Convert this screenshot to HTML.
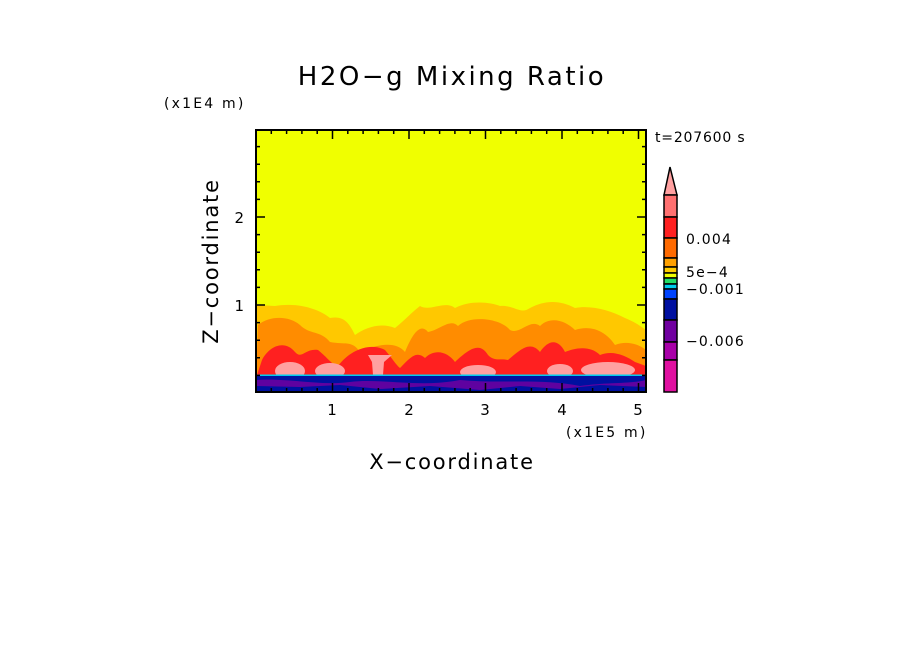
<!DOCTYPE html>
<html><head><style>
body{margin:0;background:#fff;}
svg text{font-family:"DejaVu Sans","Liberation Sans",sans-serif;fill:#000;}
</style></head><body>
<svg width="904" height="654" xmlns="http://www.w3.org/2000/svg">
<rect width="904" height="654" fill="#fff"/>
<text x="452" y="85" font-size="26" letter-spacing="2.5" text-anchor="middle">H2O−g Mixing Ratio</text>
<text x="164" y="108" font-size="14" letter-spacing="2.2">(x1E4 m)</text>
<text x="655" y="142" font-size="14" letter-spacing="0.8">t=207600 s</text>
<defs><clipPath id="c"><rect x="256" y="130" width="390" height="262"/></clipPath></defs>
<g clip-path="url(#c)">
<rect x="256" y="130" width="390" height="262" fill="#f0ff00"/>
<path d="M256,305 L275,306 C300,302 320,310 330,318 C345,315 350,325 355,335 C365,328 380,322 395,328 C405,320 412,312 420,306 C430,312 445,300 455,308 C470,300 490,302 500,306 C515,305 520,315 530,308 C545,300 560,300 575,308 C590,305 610,310 625,318 C635,322 640,326 646,330 L646,378 L256,378 Z" fill="#ffc800"/>
<path d="M258,325 C270,315 290,316 300,325 C310,335 320,330 330,342 C345,345 352,340 360,352 C375,345 395,340 405,352 C412,335 420,322 428,332 C440,330 450,318 458,326 C470,315 500,318 510,330 C520,335 530,318 540,326 C550,316 565,320 575,330 C590,325 605,330 615,345 C628,340 640,345 646,350 L646,378 L256,378 Z" fill="#ff8c00"/>
<path d="M262,360 C270,345 285,340 295,352 C302,360 305,348 318,350 C328,358 332,365 338,366 C350,350 370,342 385,350 C392,358 396,365 400,368 C410,358 416,350 425,358 C435,348 448,352 455,362 C470,348 480,342 488,355 C495,362 500,358 508,360 C520,350 530,340 540,352 C548,340 558,338 565,352 C575,348 590,345 600,355 C612,350 625,355 635,362 L646,366 L646,378 L256,378 Z" fill="#ff2020"/>
<ellipse cx="290" cy="371" rx="15" ry="9" fill="#ffa0a0"/>
<ellipse cx="330" cy="371" rx="15" ry="8" fill="#ffa0a0"/>
<path d="M368,355 L392,355 L384,362 L383,375 L373,375 L372,362 Z" fill="#ffa0a0"/>
<ellipse cx="478" cy="372" rx="18" ry="7" fill="#ffa0a0"/>
<ellipse cx="560" cy="371" rx="13" ry="7" fill="#ffa0a0"/>
<ellipse cx="608" cy="370" rx="27" ry="8" fill="#ffa0a0"/>
<rect x="256" y="375" width="390" height="17" fill="#0010a0"/>
<path d="M256,380 C290,378 320,386 350,382 C380,378 420,388 460,380 C500,384 540,378 580,386 C610,382 630,384 646,380 L646,392 L256,392 Z" fill="#7000a0" opacity="0.85"/>
<path d="M256,386 L300,387 L340,385 L380,389 L430,386 L480,390 L520,386 L560,389 L600,385 L646,387 L646,392 L256,392 Z" fill="#0010a0"/>
<rect x="256" y="374.5" width="390" height="1.5" fill="#00ccee"/>
</g>
<rect x="256" y="130" width="390" height="262" fill="none" stroke="#000" stroke-width="2"/>
<g stroke="#000" stroke-width="1.5">
<path d="M332.5,392v-9M409,392v-9M485.5,392v-9M562,392v-9M638.5,392v-9M332.5,130v9M409,130v9M485.5,130v9M562,130v9M638.5,130v9"/>
<path d="M271.3,392v-4M286.6,392v-4M301.9,392v-4M317.2,392v-4M347.8,392v-4M363.1,392v-4M378.4,392v-4M393.7,392v-4M424.3,392v-4M439.6,392v-4M454.9,392v-4M470.2,392v-4M500.8,392v-4M516.1,392v-4M531.4,392v-4M546.7,392v-4M577.3,392v-4M592.6,392v-4M607.9,392v-4M623.2,392v-4
M271.3,130v4M286.6,130v4M301.9,130v4M317.2,130v4M347.8,130v4M363.1,130v4M378.4,130v4M393.7,130v4M424.3,130v4M439.6,130v4M454.9,130v4M470.2,130v4M500.8,130v4M516.1,130v4M531.4,130v4M546.7,130v4M577.3,130v4M592.6,130v4M607.9,130v4M623.2,130v4"/>
<path d="M256,305h9M256,217h9M646,305h-9M646,217h-9"/>
<path d="M256,375.4h4M256,357.8h4M256,340.2h4M256,322.6h4M256,287.4h4M256,269.8h4M256,252.2h4M256,234.6h4M256,199.4h4M256,181.8h4M256,164.2h4M256,146.6h4
M646,375.4h-4M646,357.8h-4M646,340.2h-4M646,322.6h-4M646,287.4h-4M646,269.8h-4M646,252.2h-4M646,234.6h-4M646,199.4h-4M646,181.8h-4M646,164.2h-4M646,146.6h-4"/>
</g>
<g font-size="15" text-anchor="middle">
<text x="332" y="415">1</text><text x="409" y="415">2</text><text x="485" y="415">3</text><text x="562" y="415">4</text><text x="638" y="415">5</text>
</g>
<text x="244" y="311" font-size="15" text-anchor="end">1</text>
<text x="244" y="223" font-size="15" text-anchor="end">2</text>
<text x="566" y="437" font-size="14" letter-spacing="2.2">(x1E5 m)</text>
<text x="452" y="469" font-size="21" letter-spacing="1.8" text-anchor="middle">X−coordinate</text>
<text transform="translate(218,261) rotate(-90)" font-size="21" letter-spacing="1.8" text-anchor="middle">Z−coordinate</text>
<g stroke="#000" stroke-width="1.5">
<path d="M670,167 L664,195 L677,195 Z" fill="#ffa0a0"/>
<rect x="664" y="195" width="13" height="22" fill="#ff7070"/>
<rect x="664" y="217" width="13" height="21" fill="#ff2020"/>
<rect x="664" y="238" width="13" height="20" fill="#ff6a00"/>
<rect x="664" y="258" width="13" height="9" fill="#ffa000"/>
<rect x="664" y="267" width="13" height="6" fill="#ffcc00"/>
<rect x="664" y="273" width="13" height="5" fill="#f0ff00"/>
<rect x="664" y="278" width="13" height="6" fill="#22dd66"/>
<rect x="664" y="284" width="13" height="5" fill="#00ccee"/>
<rect x="664" y="289" width="13" height="10" fill="#0044ff"/>
<rect x="664" y="299" width="13" height="21" fill="#0010a0"/>
<rect x="664" y="320" width="13" height="22" fill="#7000a0"/>
<rect x="664" y="342" width="13" height="18" fill="#a800a8"/>
<rect x="664" y="360" width="13" height="32" fill="#e010a0"/>
</g>
<g font-size="14" letter-spacing="1.2">
<text x="686" y="244">0.004</text>
<text x="686" y="277">5e−4</text>
<text x="686" y="294">−0.001</text>
<text x="686" y="346">−0.006</text>
</g>
</svg>
</body></html>
